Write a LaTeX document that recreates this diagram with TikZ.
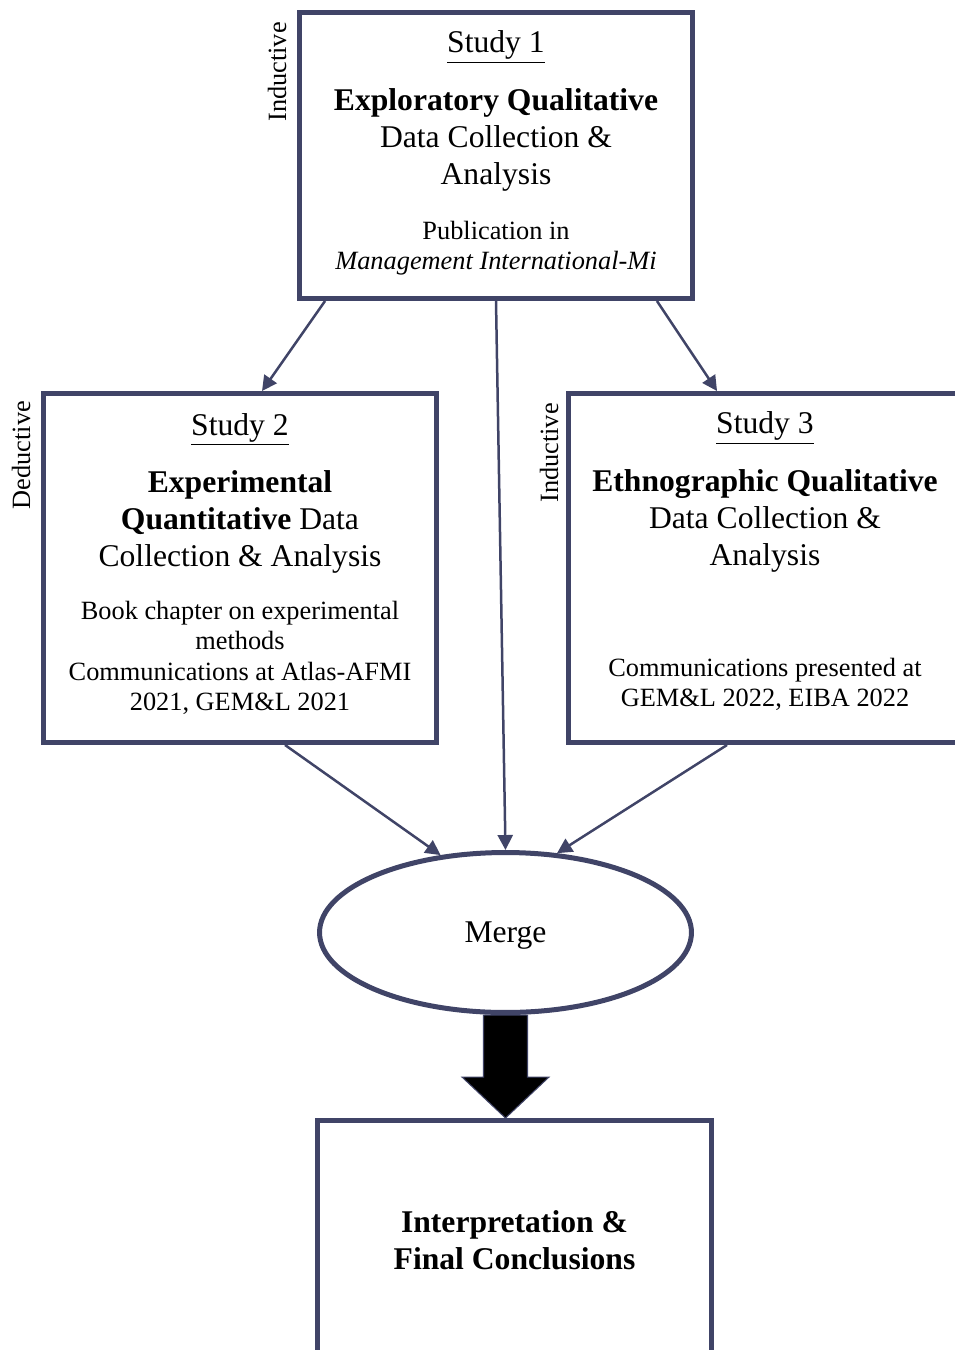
\documentclass[tikz,border=0pt]{standalone}
\usepackage{fontspec}
\setmainfont{Liberation Serif}
\usetikzlibrary{arrows.meta,calc,shapes.geometric}
\definecolor{boxline}{HTML}{404467}
\newcommand{\bigfont}{\fontsize{18}{21}\selectfont}
\newcommand{\smallfont}{\fontsize{15}{17.5}\selectfont}

\begin{document}
\begin{tikzpicture}[x=0.02cm, y=-0.02cm,
    studybox/.style={rectangle, draw=boxline, line width=0.1cm, fill=white, align=center, font=\bigfont},
    mergebox/.style={ellipse, draw=boxline, line width=0.1cm, fill=white, font=\bigfont},
    link/.style={draw=boxline, line width=0.05cm, -{Triangle[length=0.3cm,width=0.3cm]}},
    bigarrow/.style={fill=black, draw=boxline, line width=0.6pt},
    sidelabel/.style={rotate=90, font=\smallfont}]
    % Page frame
    \useasboundingbox (0,0) rectangle (955,1350);
    \clip (0,0) rectangle (955,1350);

    % Study boxes
    \node[studybox, minimum width=7.86cm, minimum height=5.72cm, text depth=6pt] (s1) at (496,155.5)
        {\underline{Study 1}\\[12pt]
         \textbf{Exploratory Qualitative}\\ Data Collection \&\\ Analysis\\[10pt]
         \smallfont Publication in\\[-3.7pt] \smallfont\textit{Management International-Mi}};
    \node[studybox, minimum width=7.86cm, minimum height=6.98cm, text depth=7pt] (s2) at (240,568)
        {\underline{Study 2}\\[12pt]
         \textbf{Experimental}\\ \textbf{Quantitative} Data\\ Collection \& Analysis\\[9pt]
         \smallfont Book chapter on experimental\\[-3.7pt] \smallfont methods\\[-3.7pt]
         \smallfont Communications at Atlas-AFMI\\[-3.7pt] \smallfont 2021, GEM\&L 2021};
    \node[studybox, minimum width=7.86cm, minimum height=6.98cm, text depth=10pt] (s3) at (765,568)
        {\underline{Study 3}\\[12pt]
         \textbf{Ethnographic Qualitative}\\ Data Collection \&\\ Analysis\\[42pt]
         \smallfont Communications presented at\\[-3.7pt] \smallfont GEM\&L 2022, EIBA 2022};

    % Approach labels
    \node[sidelabel] (ind1) at (277,72) {Inductive};
    \node[sidelabel] (ded2) at (21,455) {Deductive};
    \node[sidelabel] (ind3) at (549,453) {Inductive};

    % Merge and conclusions
    \node[mergebox, minimum width=7.44cm, minimum height=3.2cm, text depth=0pt] (merge) at (505.5,932.5) {Merge};
    \node[studybox, minimum width=7.88cm, minimum height=4.78cm, font=\bigfont\bfseries] (fin) at (514.5,1240)
        {Interpretation \&\\ Final Conclusions};

    % Arrows
    \draw[link] ($(s1.south west)+(28,0)$) -- ($(s2.north)+(22,0)$);
    \draw[link] (s1.south) -- (merge.north);
    \draw[link] ($(s1.south east)+(-38,0)$) -- ($(s3.north west)+(151,0)$);
    \draw[link] ($(s2.south)+(45,0)$) -- (merge.130);
    \draw[link] ($(s3.south west)+(161,0)$) -- (merge.57);

    % Big arrow to conclusions
    \coordinate (tip) at (merge.south |- fin.north);
    \draw[bigarrow] ($(tip)+(-22,-103)$) -- ($(tip)+(22,-103)$) -- ($(tip)+(22,-41)$)
        -- ($(tip)+(43.5,-41)$) -- (tip) -- ($(tip)+(-43.5,-41)$) -- ($(tip)+(-22,-41)$) -- cycle;
\end{tikzpicture}
\end{document}
